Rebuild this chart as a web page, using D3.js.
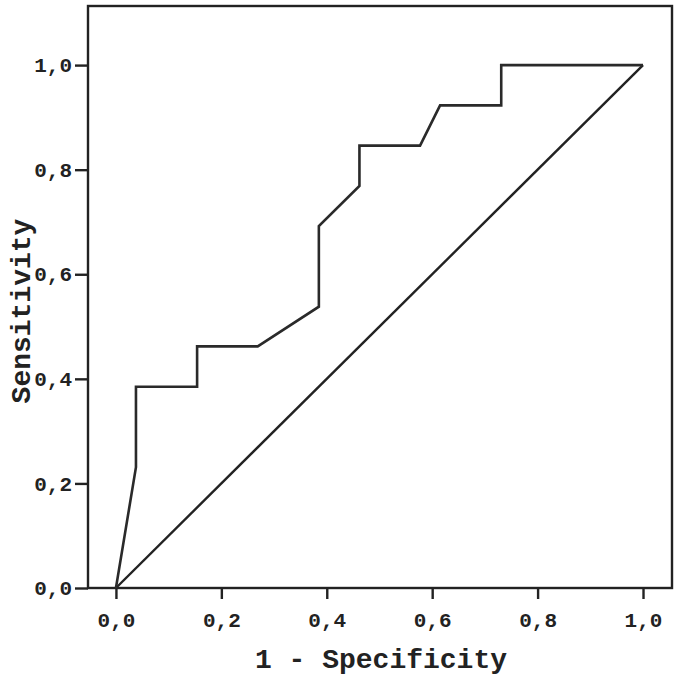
<!DOCTYPE html>
<html>
<head>
<meta charset="utf-8">
<script src="https://cdn.jsdelivr.net/npm/d3@7"></script>
<style>
  body { margin: 0; background: #fff; }
  text { font-family: "Liberation Mono", "DejaVu Sans Mono", monospace; font-weight: bold; fill: #222; }
</style>
</head>
<body>
<div id="chart"></div>
<script>
// ROC curve points (1 - specificity, sensitivity)
var fpr = [0, 0.038, 0.038, 0.154, 0.154, 0.269, 0.385, 0.385, 0.462, 0.462, 0.577, 0.615, 0.731, 0.731, 1];
var tpr = [0, 0.231, 0.385, 0.385, 0.462, 0.462, 0.538, 0.692, 0.769, 0.846, 0.846, 0.923, 0.923, 1, 1];
var refLine = [0, 1];
var tickValues = [0, 0.2, 0.4, 0.6, 0.8, 1];

var width = 685, height = 680;
var fmt = function(d) { return d3.format(".1f")(d).replace(".", ","); };

var x = d3.scaleLinear().domain([-0.053, 1.055]).range([88, 672]);
var y = d3.scaleLinear().domain([0, 1.113]).range([588, 6]);

var svg = d3.select("#chart").append("svg")
    .attr("width", width)
    .attr("height", height);

// frame
svg.append("rect")
    .attr("x", x.range()[0])
    .attr("y", y.range()[1])
    .attr("width", x.range()[1] - x.range()[0])
    .attr("height", y.range()[0] - y.range()[1])
    .attr("fill", "none")
    .attr("stroke", "#222")
    .attr("stroke-width", 2.4);

var xAxis = svg.append("g")
    .attr("transform", "translate(0," + y.range()[0] + ")")
    .call(d3.axisBottom(x).tickValues(tickValues).tickFormat(fmt).tickSize(11).tickPadding(13));
var yAxis = svg.append("g")
    .attr("transform", "translate(" + x.range()[0] + ",0)")
    .call(d3.axisLeft(y).tickValues(tickValues).tickFormat(fmt).tickSize(13).tickPadding(3));

[xAxis, yAxis].forEach(function(g) {
  g.select(".domain").remove();
  g.selectAll(".tick line").attr("stroke", "#222").attr("stroke-width", 2.4);
  g.selectAll(".tick text")
    .style("font-size", "21px")
    .attr("fill", "#222");
});

// reference diagonal
var line = d3.line()
    .x(function(d) { return x(d[0]); })
    .y(function(d) { return y(d[1]); });

svg.append("path")
    .datum(refLine.map(function(v) { return [v, v]; }))
    .attr("d", line)
    .attr("fill", "none")
    .attr("stroke", "#222")
    .attr("stroke-width", 2.4);

svg.append("path")
    .datum(fpr.map(function(v, i) { return [v, tpr[i]]; }))
    .attr("d", line)
    .attr("fill", "none")
    .attr("stroke", "#2a2a2a")
    .attr("stroke-width", 2.6)
    .attr("stroke-linejoin", "miter");

// axis titles
svg.append("text")
    .attr("x", 381)
    .attr("y", 668)
    .attr("text-anchor", "middle")
    .style("font-size", "28px")
    .text("1 - Specificity");

svg.append("text")
    .attr("transform", "translate(30,311) rotate(-90)")
    .attr("text-anchor", "middle")
    .style("font-size", "28px")
    .text("Sensitivity");
</script>
</body>
</html>
